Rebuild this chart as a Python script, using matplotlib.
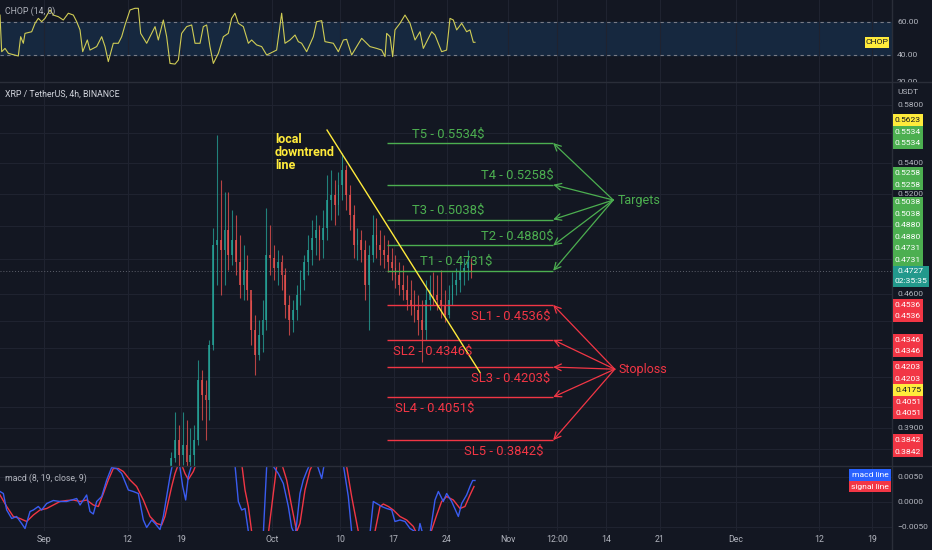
import matplotlib
matplotlib.use("Agg")
import matplotlib.pyplot as plt
from matplotlib.patches import Rectangle
from matplotlib.ticker import NullLocator
from matplotlib.transforms import Bbox, TransformedBbox

plt.rcParams['font.family'] = ['Roboto', 'DejaVu Sans']

# ---------------- data (time in days since Sep 1) ----------------
x_left, x_right = -5.79, 111.58
tick_days = [0, 11, 18, 30, 39, 46, 53, 61, 67.5, 74, 81, 91, 102, 109]
tick_labels = ['Sep', '12', '19', 'Oct', '10', '17', '24', 'Nov', '12:00',
               '14', '21', 'Dec', '12', '19']

# 12h candles, first one opens Sep 17 12:00
candle_start = 16.5
candle_step = 0.5
first_open = 0.3712
close = [0.3758, 0.3842, 0.3772, 0.3819, 0.3740, 0.3772, 0.3842, 0.4136, 0.4061, 0.4036,
         0.4318, 0.4882, 0.4912, 0.4852, 0.4973, 0.4822, 0.4912, 0.4781, 0.4649, 0.4735,
         0.4620, 0.4398, 0.4265, 0.4372, 0.4453, 0.4822, 0.4805, 0.4746, 0.4781, 0.4706,
         0.4535, 0.4453, 0.4507, 0.4592, 0.4677, 0.4781, 0.4852, 0.4924, 0.4973, 0.4912,
         0.4986, 0.5160, 0.5192, 0.5129, 0.5256, 0.5353, 0.5192, 0.5066, 0.4882, 0.4912,
         0.4852, 0.4649, 0.4822, 0.4942, 0.4882, 0.4852, 0.4822, 0.4781, 0.4746, 0.4706,
         0.4649, 0.4620, 0.4563, 0.4535, 0.4507, 0.4453, 0.4398, 0.4563, 0.4620, 0.4592,
         0.4563, 0.4535, 0.4480, 0.4563, 0.4649, 0.4677, 0.4723, 0.4746, 0.4781, 0.4727]
high = [0.3786, 0.3977, 0.3914, 0.3977, 0.3938, 0.3900, 0.3914, 0.4239, 0.4187, 0.4136,
        0.4344, 0.4986, 0.5589, 0.5288, 0.5211, 0.5211, 0.5097, 0.5066, 0.4942, 0.4882,
        0.4822, 0.4563, 0.4480, 0.4453, 0.4563, 0.5110, 0.5004, 0.4882, 0.4852, 0.4822,
        0.4746, 0.4592, 0.4563, 0.4649, 0.4735, 0.4822, 0.4942, 0.5034, 0.5066, 0.5004,
        0.5097, 0.5320, 0.5353, 0.5288, 0.5340, 0.5466, 0.5387, 0.5256, 0.5129, 0.4986,
        0.4973, 0.4912, 0.4882, 0.5066, 0.5047, 0.4973, 0.4942, 0.4912, 0.4864, 0.4822,
        0.4781, 0.4764, 0.4706, 0.4677, 0.4620, 0.4592, 0.4563, 0.4677, 0.4706, 0.4723,
        0.4706, 0.4735, 0.4620, 0.4649, 0.4723, 0.4746, 0.4781, 0.4805, 0.4852, 0.4805]
low = [0.3681, 0.3740, 0.3703, 0.3726, 0.3703, 0.3694, 0.3712, 0.3819, 0.3938, 0.3842,
       0.3938, 0.4291, 0.4649, 0.4592, 0.4649, 0.4735, 0.4764, 0.4706, 0.4575, 0.4563,
       0.4563, 0.4318, 0.4162, 0.4239, 0.4281, 0.4398, 0.4706, 0.4677, 0.4649, 0.4620,
       0.4463, 0.4372, 0.4388, 0.4453, 0.4535, 0.4620, 0.4706, 0.4764, 0.4822, 0.4793,
       0.4805, 0.4912, 0.5034, 0.5004, 0.5066, 0.5160, 0.5097, 0.4973, 0.4805, 0.4793,
       0.4781, 0.4563, 0.4398, 0.4781, 0.4805, 0.4764, 0.4746, 0.4723, 0.4677, 0.4632,
       0.4592, 0.4563, 0.4507, 0.4480, 0.4442, 0.4372, 0.4229, 0.4344, 0.4507, 0.4535,
       0.4507, 0.4463, 0.4442, 0.4463, 0.4535, 0.4592, 0.4609, 0.4649, 0.4677, 0.4689]

chop_day = [-5.79, -5.57, -5.13, -4.69, -3.38, -3.07, -2.72, -2.50, -1.62, -1.18,
            -0.75, -0.31, 0.13, 0.79, 1.23, 1.89, 2.54, 3.20, 3.86, 4.30,
            4.74, 5.09, 5.70, 6.05, 6.93, 7.59, 8.03, 8.46, 9.12, 9.78,
            10.22, 10.66, 11.32, 11.97, 12.41, 12.72, 13.51, 14.61, 15.04, 15.70,
            16.14, 16.58, 17.24, 17.68, 18.11, 18.77, 19.43, 19.87, 20.53, 20.96,
            21.40, 21.84, 22.28, 22.94, 23.60, 24.25, 24.69, 25.13, 25.57, 26.23,
            26.89, 27.32, 27.98, 28.64, 29.30, 29.74, 30.61, 31.27, 31.71, 32.37,
            33.03, 33.46, 33.90, 34.56, 35.44, 35.88, 36.54, 36.97, 38.07, 38.73,
            39.39, 39.82, 40.48, 41.14, 41.80, 42.24, 42.89, 43.77, 44.43, 44.87,
            45.09, 45.53, 45.88, 46.18, 46.84, 47.50, 48.16, 48.82, 49.47, 49.91,
            51.01, 51.45, 52.32, 52.98, 53.42, 53.86, 54.30, 54.96, 55.61, 56.05,
            56.49, 56.71]
chop_val = [64.2, 42.0, 44.0, 41.0, 39.4, 51.1, 47.1, 53.1, 54.1, 59.2,
            62.2, 60.2, 62.2, 67.3, 64.2, 63.2, 61.2, 65.3, 64.2, 60.2,
            55.2, 42.0, 49.1, 43.0, 45.1, 51.1, 45.1, 36.0, 47.1, 47.1,
            51.1, 58.2, 67.3, 68.3, 68.3, 53.1, 47.1, 57.2, 49.1, 61.2,
            51.1, 34.9, 34.5, 37.0, 53.1, 57.2, 58.2, 47.1, 47.1, 57.2,
            58.2, 45.1, 34.9, 41.0, 51.1, 53.1, 62.2, 65.3, 59.2, 57.2,
            47.1, 49.1, 46.1, 45.1, 40.0, 41.0, 43.0, 65.3, 47.1, 49.1,
            52.1, 48.1, 47.1, 42.0, 51.1, 60.2, 60.8, 48.1, 47.1, 42.0,
            49.1, 49.5, 40.0, 45.1, 50.1, 48.1, 45.1, 44.0, 43.0, 39.0,
            53.1, 51.1, 39.0, 55.2, 59.2, 64.2, 59.2, 49.1, 54.1, 44.0,
            54.1, 52.1, 42.0, 43.0, 62.2, 61.2, 55.2, 59.2, 54.1, 55.2,
            47.7, 47.7]

macd_day = [-5.79, -5.35, -4.91, -4.25, -3.60, -2.94, -2.50, -1.84, -1.40, -0.75,
            -0.31, 0.35, 1.23, 2.11, 2.98, 3.64, 4.30, 4.74, 5.61, 6.05,
            6.49, 6.93, 7.59, 8.25, 8.90, 9.56, 10.22, 11.10, 11.75, 12.41,
            13.07, 13.51, 14.17, 14.61, 15.26, 15.70, 16.14, 16.58, 17.02, 17.68,
            18.25, 18.64, 18.99, 19.43, 20.09, 21.40, 23.16, 24.47, 25.13, 25.57,
            26.01, 26.45, 26.89, 27.98, 28.86, 29.30, 29.74, 30.18, 30.83, 31.49,
            32.15, 32.59, 33.03, 33.25, 33.68, 34.12, 34.56, 35.22, 35.88, 36.54,
            36.97, 38.07, 38.95, 39.39, 40.04, 40.48, 41.58, 42.89, 43.33, 43.77,
            44.43, 45.09, 45.75, 46.18, 46.84, 47.50, 48.16, 49.25, 49.47, 49.82,
            50.79, 51.45, 51.89, 52.54, 52.98, 53.64, 54.52, 54.96, 55.61, 56.05,
            56.40, 56.71]
macd_val = [0.0021, 0.0017, -0.0016, -0.0033, -0.0029, -0.0043, -0.0053, -0.0019, -0.0016, -0.0009,
            -0.0016, -0.0003, 0.0003, 0.0001, 0.0001, 0.0004, 0.0007, -0.0006, 0.0014, -0.0019,
            -0.0024, 0.0001, 0.0011, 0.0044, 0.0069, 0.0067, 0.0057, 0.0024, 0.0021, 0.0017,
            -0.0036, -0.0051, -0.0036, -0.0043, -0.0055, -0.0029, 0.0011, 0.0051, 0.0084, 0.0091,
            0.0031, 0.0004, 0.0051, 0.0074, 0.0104, 0.0190, 0.0220, 0.0164, 0.0074, 0.0001,
            -0.0016, -0.0013, -0.0059, -0.0089, -0.0063, 0.0071, 0.0097, 0.0071, 0.0057, 0.0037,
            -0.0009, -0.0051, -0.0066, -0.0043, 0.0017, 0.0044, 0.0061, 0.0084, 0.0077, 0.0047,
            0.0084, 0.0137, 0.0124, 0.0074, 0.0011, -0.0059, -0.0096, -0.0063, 0.0001, -0.0003,
            -0.0009, -0.0013, -0.0016, -0.0039, -0.0036, -0.0039, -0.0053, -0.0063, -0.0043, -0.0063,
            -0.0063, 0.0004, 0.0021, 0.0001, 0.0017, 0.0001, -0.0029, -0.0003, 0.0014, 0.0031,
            0.0043, 0.0043]

signal_day = [-5.79, -4.91, -4.04, -3.16, -2.28, -1.40, -0.53, 0.35, 1.23, 2.11,
              2.98, 3.86, 4.74, 5.61, 6.49, 7.15, 7.81, 8.46, 9.12, 9.78,
              10.44, 11.32, 12.19, 13.07, 13.95, 14.82, 15.48, 15.92, 16.36, 16.80,
              17.24, 17.89, 18.55, 18.99, 19.65, 20.53, 22.28, 24.47, 25.79, 26.45,
              26.89, 27.32, 28.42, 29.52, 29.96, 30.61, 31.27, 31.93, 32.59, 33.25,
              33.68, 34.34, 35.00, 35.66, 36.54, 37.41, 38.73, 39.82, 40.48, 41.36,
              42.46, 43.55, 44.21, 44.65, 45.31, 45.96, 46.84, 47.72, 48.60, 49.04,
              50.79, 51.67, 52.32, 52.98, 53.86, 54.74, 55.39, 56.05, 56.58]
signal_val = [0.0014, -0.0009, -0.0029, -0.0033, -0.0039, -0.0026, -0.0016, -0.0013, -0.0006, 0.0001,
              0.0003, 0.0004, 0.0001, 0.0004, -0.0006, -0.0009, 0.0017, 0.0044, 0.0067, 0.0067,
              0.0061, 0.0044, 0.0031, 0.0004, -0.0029, -0.0043, -0.0046, -0.0029, 0.0001, 0.0031,
              0.0057, 0.0084, 0.0057, 0.0045, 0.0061, 0.0097, 0.0177, 0.0177, 0.0104, 0.0024,
              -0.0009, -0.0059, -0.0089, -0.0063, -0.0009, 0.0071, 0.0077, 0.0044, -0.0009, -0.0059,
              -0.0043, 0.0024, 0.0064, 0.0084, 0.0077, 0.0104, 0.0111, 0.0071, 0.0011, -0.0059,
              -0.0089, -0.0059, -0.0009, -0.0004, -0.0009, -0.0016, -0.0029, -0.0036, -0.0049, -0.0063,
              -0.0066, -0.0026, 0.0001, 0.0011, 0.0004, -0.0013, -0.0009, 0.0014, 0.0031]

target_names = ['T1', 'T2', 'T3', 'T4', 'T5']
target_levels = [0.4731, 0.4880, 0.5038, 0.5258, 0.5534]
stop_names = ['SL1', 'SL2', 'SL3', 'SL4', 'SL5']
stop_levels = [0.4536, 0.4346, 0.4203, 0.4051, 0.3842]

trend_day = [37.24, 57.37]
trend_price = [0.5623, 0.4175]

price_ticks = [0.5800, 0.5400, 0.5200, 0.4600, 0.3900]
price_grid = [0.58, 0.56, 0.54, 0.52, 0.50, 0.48, 0.46, 0.445, 0.43, 0.415, 0.40, 0.39, 0.38]
chop_ticks = [60, 40, 20]
macd_ticks = [0.005, 0.0, -0.005]
countdown = '02:35:35'

# ---------------- layout / style ----------------
BG = '#131722'
GRID = '#1f2330'
SEP = '#2a2e39'
TXT = '#b2b5be'
GREEN = '#4caf50'
RED = '#f23645'
YELLOW = '#ffeb3b'
UP = '#26a69a'
DOWN = '#ef5350'
BLUE = '#2962ff'

W, H = 932, 550
SCALE_X = 892
BOX_H = 11.5
SCALE_FS = 6.1
LABEL_FS = 9.4

level_start, level_end = 45.1, 67.0
target_anchor = (74.9, 0.5160)
stop_anchor = (75.1, 0.4192)
target_text_x = [49.5, 67.0, 48.4, 67.1, 48.4]
target_text_ha = ['left', 'right', 'left', 'right', 'left']
stop_text_x = [66.6, 45.9, 66.6, 46.2, 65.7]
stop_text_ha = ['right', 'left', 'right', 'left', 'right']

fig = plt.figure(figsize=(W / 100, H / 100), dpi=100, facecolor=BG)


def pane(top, bottom):
    return fig.add_axes([0, 1 - bottom / H, SCALE_X / W, (bottom - top) / H], facecolor=BG)


ax_chop = pane(0, 82)
ax = pane(82, 466)
ax_macd = pane(466, 531)

for a in (ax_chop, ax, ax_macd):
    a.set_xlim(x_left, x_right)
    for s in a.spines.values():
        s.set_visible(False)
    a.set_xticks(tick_days)
    a.tick_params(length=0, labelbottom=False, labelleft=False)
    a.grid(axis='x', color=GRID, lw=0.8)
    a.set_axisbelow(True)

# ---- CHOP pane ----
ax_chop.set_ylim(23.64, 73.33)
ax_chop.set_yticks([])
ax_chop.axhspan(40, 60, color='#16283f', zorder=0.5)
ax_chop.axhline(60, color='#787b86', lw=0.8, ls=(0, (3, 3)))
ax_chop.axhline(40, color='#787b86', lw=0.8, ls=(0, (3, 3)))
ax_chop.plot(chop_day, chop_val, color='#cfcc55', lw=0.8)

# ---- main price pane ----
ax.set_yscale('log')
ax.set_ylim(0.3722, 0.5965)
ax.yaxis.set_minor_locator(NullLocator())
ax.set_yticks(price_grid)
ax.tick_params(axis='y', length=0, labelleft=False)
ax.grid(axis='y', color=GRID, lw=0.8)

opens = [first_open] + close[:-1]
t_mid = [candle_start + candle_step * (i + 0.5) for i in range(len(close))]
cols = [UP if c >= o else DOWN for o, c in zip(opens, close)]
ax.vlines(t_mid, low, high, colors=cols, lw=0.8, alpha=0.75, zorder=2)
ax.bar(t_mid, [abs(c - o) for o, c in zip(opens, close)],
       bottom=[min(o, c) for o, c in zip(opens, close)],
       width=0.24, color=cols, alpha=0.75, zorder=2)

ax.axhline(close[-1], color='#5d606b', lw=0.7, ls=(0, (1, 2)), zorder=1.5)

ax.plot(trend_day, trend_price, color=YELLOW, lw=1.0, zorder=4)
ax.text(30.4, 0.5604, 'local\ndowntrend\nline', color=YELLOW, fontsize=9.0,
        fontweight='bold', va='top', ha='left', linespacing=1.02, zorder=5)

ax.hlines(target_levels, level_start, level_end, color=GREEN, lw=1.0, zorder=3)
ax.hlines(stop_levels, level_start, level_end, color=RED, lw=1.0, zorder=3)

for lvl in target_levels:
    ax.annotate('', xy=(level_end, lvl), xytext=target_anchor,
                arrowprops=dict(arrowstyle='->', color=GREEN, lw=0.9,
                                shrinkA=0, shrinkB=0, mutation_scale=12))
for lvl in stop_levels:
    ax.annotate('', xy=(level_end, lvl), xytext=stop_anchor,
                arrowprops=dict(arrowstyle='->', color=RED, lw=0.9,
                                shrinkA=0, shrinkB=0, mutation_scale=12))

ax.annotate('Targets', xy=target_anchor, xytext=(3, 0), textcoords='offset points',
            color=GREEN, fontsize=9.0, va='center', ha='left')
ax.annotate('Stoploss', xy=stop_anchor, xytext=(3, 0), textcoords='offset points',
            color=RED, fontsize=9.0, va='center', ha='left')

for name, lvl, tx, ha in zip(target_names, target_levels, target_text_x, target_text_ha):
    ax.annotate(f'{name} - {lvl:.4f}$', xy=(tx, lvl), xytext=(0, 6.5),
                textcoords='offset points', color=GREEN, fontsize=LABEL_FS,
                ha=ha, va='center', zorder=5)
for name, lvl, tx, ha in zip(stop_names, stop_levels, stop_text_x, stop_text_ha):
    ax.annotate(f'{name} - {lvl:.4f}$', xy=(tx, lvl), xytext=(0, -8),
                textcoords='offset points', color=RED, fontsize=LABEL_FS,
                ha=ha, va='center', zorder=5)

# ---- MACD pane ----
ax_macd.set_ylim(-0.0058, 0.0072)
ax_macd.set_yticks(macd_ticks)
ax_macd.tick_params(axis='y', length=0, labelleft=False)
ax_macd.grid(axis='y', color=GRID, lw=0.8)
ax_macd.plot(signal_day, signal_val, color='#f23645', lw=1.0)
ax_macd.plot(macd_day, macd_val, color='#3a5cf0', lw=1.0)
ax_macd.set_xticklabels(tick_labels)
ax_macd.tick_params(axis='x', labelbottom=True, labelsize=6.3, labelcolor=TXT, pad=3.0)

# ---------------- separators and scale ----------------
for yy in (82, 466):
    fig.add_artist(plt.Line2D([0, 1], [1 - yy / H] * 2, color=SEP, lw=1.0))
fig.add_artist(plt.Line2D([SCALE_X / W] * 2, [0, 1], color=SEP, lw=1.0))


def yof(a, v):
    return H - a.transData.transform((0, v))[1]


def fy(y):
    return 1 - y / H


def scale_text(y, s, color=TXT, clip=None):
    t = fig.text(897 / W, fy(y), s, color=color, fontsize=SCALE_FS, ha='left', va='center', zorder=2)
    if clip is not None:
        t.set_clip_box(clip)
        t.set_clip_on(True)
    return t


def box(x0, width, y, h, s, face, tcolor='white', tx=None):
    fig.add_artist(Rectangle((x0 / W, fy(y + h / 2)), width / W, h / H,
                             transform=fig.transFigure, facecolor=face,
                             edgecolor='none', zorder=4))
    fig.text((tx if tx is not None else x0 + width / 2) / W, fy(y), s, color=tcolor,
             fontsize=SCALE_FS, ha='center', va='center', zorder=5)


chop_clip = TransformedBbox(Bbox.from_extents(0, fy(82), 1, 1), fig.transFigure)
for v in chop_ticks:
    scale_text(yof(ax_chop, v) - (6 if v == 20 else 0), f'{v:.2f}', clip=chop_clip)
for v in macd_ticks:
    scale_text(yof(ax_macd, v), f'{v:.4f}'.replace('-', '\u2212'))
for v in price_ticks:
    scale_text(yof(ax, v), f'{v:.4f}')
fig.text(897 / W, fy(92), 'USDT', color=TXT, fontsize=SCALE_FS, ha='left', va='center')

# price labels pushed away from the live-price label
labels = []
for lvl in target_levels:
    labels += [(lvl, GREEN, 'white')] * 2
for lvl in stop_levels:
    labels += [(lvl, RED, 'white')] * 2
for p in trend_price:
    labels.append((p, YELLOW, BG))

cur_y = yof(ax, close[-1])
cur_top = cur_y - BOX_H / 2
cur_h = 21
box(893, 36, cur_top + cur_h / 2, cur_h, '', '#22998c')
fig.text(911 / W, fy(cur_y), f'{close[-1]:.4f}', color='white', fontsize=SCALE_FS,
         ha='center', va='center', zorder=5)
fig.text(911 / W, fy(cur_y + 10), countdown, color='white', fontsize=SCALE_FS,
         ha='center', va='center', zorder=5)

above = sorted([l for l in labels if yof(ax, l[0]) < cur_y], key=lambda l: -yof(ax, l[0]))
below = sorted([l for l in labels if yof(ax, l[0]) >= cur_y], key=lambda l: yof(ax, l[0]))
edge = cur_top
for p, face, tc in above:
    y = min(yof(ax, p), edge - BOX_H / 2)
    edge = y - BOX_H / 2
    box(893, 30, y, BOX_H, f'{p:.4f}', face, tc)
edge = cur_top + cur_h
for p, face, tc in below:
    y = max(yof(ax, p), edge + BOX_H / 2)
    edge = y + BOX_H / 2
    box(893, 30, y, BOX_H, f'{p:.4f}', face, tc)

# indicator name tags
box(865, 24, yof(ax_chop, chop_val[-1]), BOX_H, 'CHOP', YELLOW, BG)
sig_y = yof(ax_macd, signal_val[-1])
macd_y = min(yof(ax_macd, macd_val[-1]), sig_y - BOX_H)
box(849, 42, macd_y, BOX_H, 'macd line', BLUE)
box(849, 42, sig_y, BOX_H, 'signal line', RED)

# pane titles
fig.text(5 / W, fy(11), 'CHOP (14, 0)', color=TXT, fontsize=6.3, ha='left', va='center')
fig.text(5 / W, fy(94), 'XRP / TetherUS, 4h, BINANCE', color='#d1d4dc', fontsize=6.3,
         ha='left', va='center')
fig.text(5 / W, fy(478), 'macd (8, 19, close, 9)', color=TXT, fontsize=6.3,
         ha='left', va='center')

fig.savefig('out.png', dpi=100, facecolor=BG)
